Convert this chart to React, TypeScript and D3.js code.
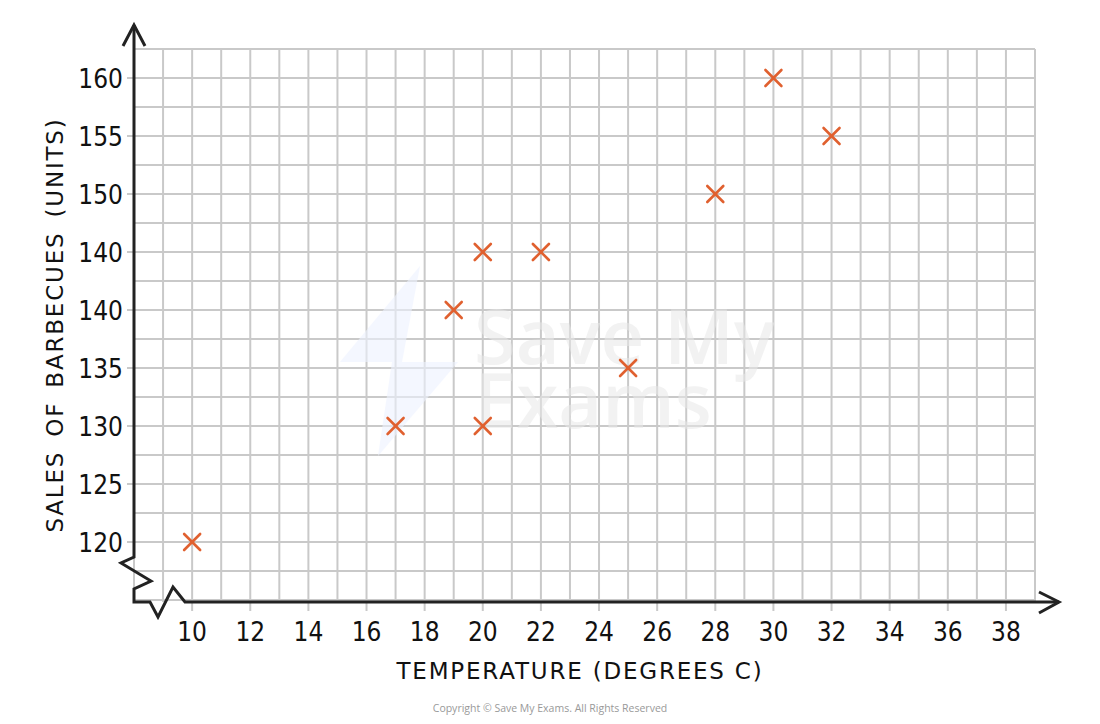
import React from "react";
import * as d3 from "d3";

const temperatures = [10, 17, 19, 20, 20, 22, 25, 28, 30, 32];
const sales = [120, 130, 140, 145, 130, 145, 135, 150, 160, 155];
const xTickValues = [10, 12, 14, 16, 18, 20, 22, 24, 26, 28, 30, 32, 34, 36, 38];
const yTickValues = [120, 125, 130, 135, 140, 145, 150, 155, 160];
const yTickLabels = ["120", "125", "130", "135", "140", "140", "150", "155", "160"];
const xTitle = "TEMPERATURE (DEGREES C)";
const yTitle = "SALES OF BARBECUES (UNITS)";

const W = 1100;
const H = 724;
const FONT = "'DejaVu Sans', Lato, sans-serif";
const TICK_FONT = "'DejaVu Sans Condensed', 'DejaVu Sans', sans-serif";

export default function App() {
  const x = d3.scaleLinear().domain([8, 39]).range([134, 1035]);
  const y = d3.scaleLinear().domain([115, 162.5]).range([600, 49]);
  const xGrid = d3.range(8, 39.01, 1);
  const yGrid = d3.range(115, 162.51, 2.5);
  const ax = x(8);
  const ay = y(115) + 2;
  const gridTop = y(162.5);
  const gridRight = x(39);
  const line = d3.line<[number, number]>();
  const yAxisPath = line([
    [ax, ax - 109],
    [ax, y(120) + 15],
    [ax - 13, y(120) + 21],
    [ax + 17, y(120) + 39],
    [ax, y(120) + 47],
    [ax, ay],
    [ax + 16, ay],
    [ax + 24, ay + 15],
    [ax + 39, ay - 15],
    [ax + 51, ay],
    [gridRight + 24, ay],
  ]);
  const isTick = (v: number) => xTickValues.includes(v);
  const isYTick = (v: number) => yTickValues.includes(v);
  const m = 8;
  return (
    <svg width={W} height={H} style={{ display: "block", position: "absolute", left: 0, top: 0 }}>
      <rect width={W} height={H} fill="#fff" />
      {/* grid */}
      {xGrid.map((v) => (
        <line key={"vx" + v} x1={x(v)} x2={x(v)} y1={gridTop} y2={isTick(v) ? ay + 9 : ay}
          stroke="#c9c9c9" strokeWidth={2} />
      ))}
      {yGrid.map((v) => (
        <line key={"hy" + v} x1={isYTick(v) ? ax - 7 : ax} x2={gridRight} y1={y(v)} y2={y(v)}
          stroke="#c9c9c9" strokeWidth={2} />
      ))}
      {/* watermark */}
      <g opacity={0.6}>
        <polygon points="420,266 340,362 402,362" fill="#eef3ff" />
        <polygon points="458,362 378,456 392,362" fill="#eef3ff" />
      </g>
      <text fill="#e8e8e8" opacity={0.55} fontFamily="'Open Sans', sans-serif" fontWeight={600} fontSize={76}>
        <tspan x={474} y={364}>Save My</tspan>
        <tspan x={474} y={428}>Exams</tspan>
      </text>
      {/* axes */}
      <path d={yAxisPath || ""} fill="none" stroke="#222" strokeWidth={3} strokeLinejoin="miter" />
      <path d={`M${ax - 11},${ax - 88} L${ax},${ax - 109} L${ax + 11},${ax - 88}`} fill="none" stroke="#222" strokeWidth={3} />
      <path d={`M${gridRight + 4},${ay - 10} L${gridRight + 24},${ay} L${gridRight + 4},${ay + 11}`} fill="none" stroke="#222" strokeWidth={3} />
      {/* tick labels */}
      {xTickValues.map((v) => (
        <text key={"xt" + v} x={x(v)} y={641} textAnchor="middle" fontFamily={TICK_FONT} fontSize={26} fill="#111">{v}</text>
      ))}
      {yTickValues.map((v, i) => (
        <text key={"yt" + v} x={123} y={y(v) + 10} textAnchor="end" fontFamily={TICK_FONT} fontSize={26} fill="#111">{yTickLabels[i]}</text>
      ))}
      {/* titles */}
      <text x={580} y={679} textAnchor="middle" fontFamily={FONT} fontSize={23} fill="#111" letterSpacing={1.8}>{xTitle}</text>
      <text transform={`translate(63,325) rotate(-90)`} textAnchor="middle" fontFamily={FONT} fontSize={23} fill="#111" letterSpacing={1.8} wordSpacing={5}>{yTitle}</text>
      {/* points */}
      {temperatures.map((t, i) => {
        const cx = x(t);
        const cy = y(sales[i]);
        return (
          <g key={"p" + i} stroke="#e0602f" strokeWidth={2.6} strokeLinecap="round">
            <line x1={cx - m} y1={cy - m} x2={cx + m} y2={cy + m} />
            <line x1={cx - m} y1={cy + m} x2={cx + m} y2={cy - m} />
          </g>
        );
      })}
      <text x={550} y={712} textAnchor="middle" fontFamily="'Open Sans', sans-serif" fontSize={10.5} fill="#999">Copyright © Save My Exams. All Rights Reserved</text>
    </svg>
  );
}
